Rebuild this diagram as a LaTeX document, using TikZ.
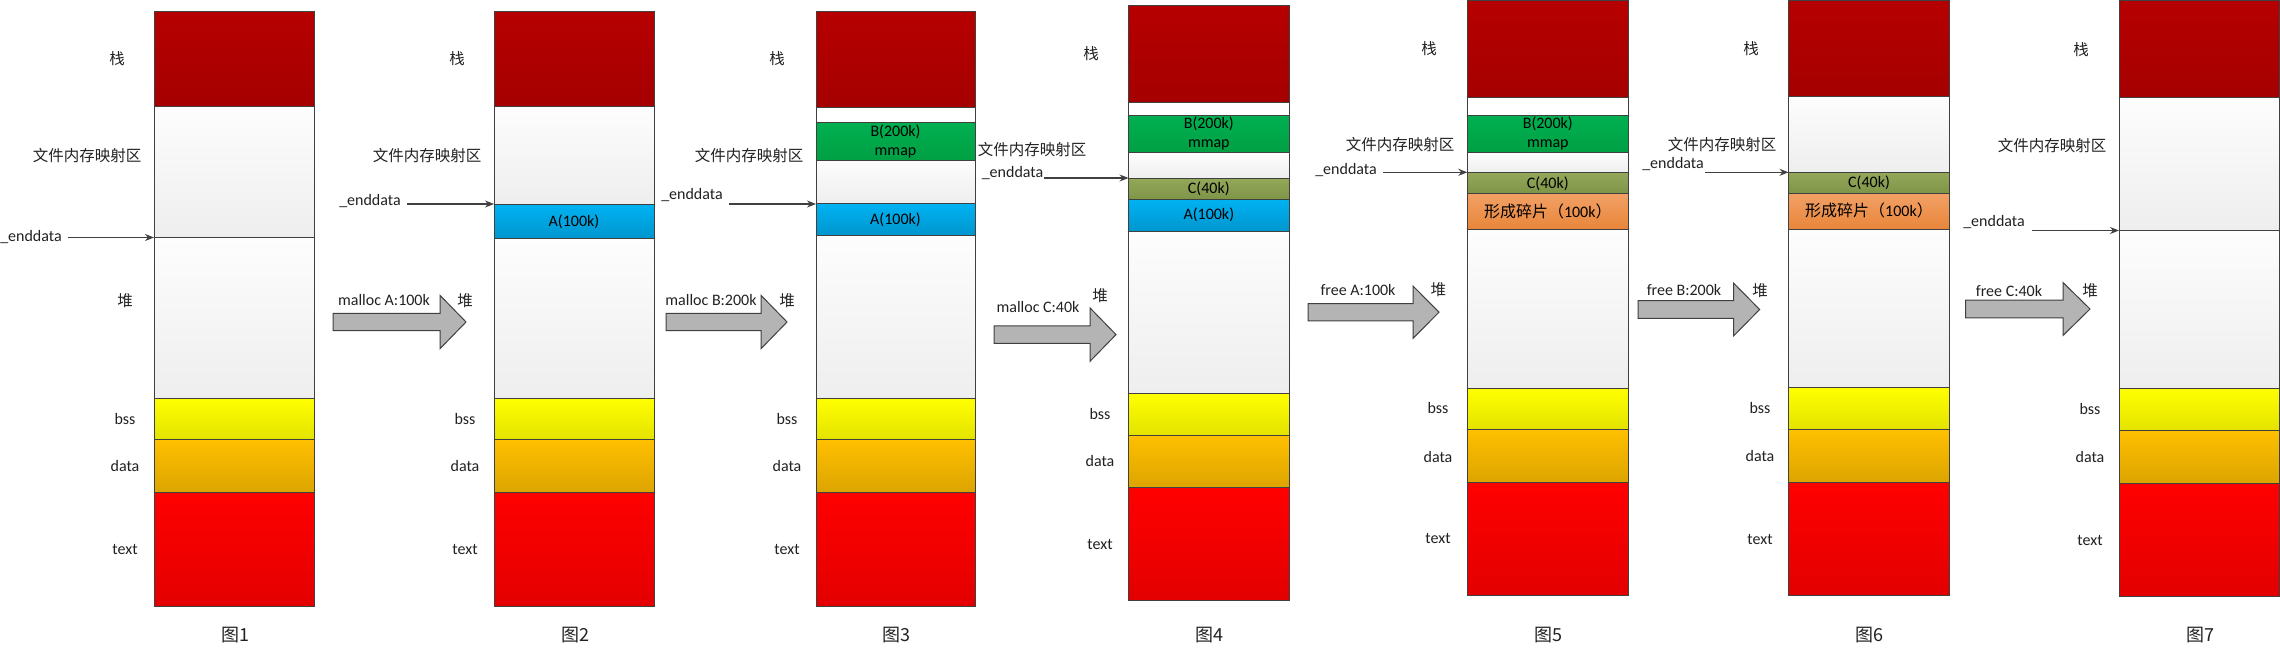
\documentclass[tikz,border=0pt]{standalone}
\usepackage{fontspec}
\setmainfont{Carlito}
\newfontfamily\cjk{Noto Sans CJK SC}
\usetikzlibrary{arrows.meta}
\definecolor{edge}{HTML}{404040}
\definecolor{ink}{HTML}{222222}
\definecolor{arrgray}{HTML}{B4B4B4}
\definecolor{stkT}{HTML}{B60000}\definecolor{stkB}{HTML}{A50000}
\definecolor{mapT}{HTML}{FDFDFD}\definecolor{mapB}{HTML}{EEEEEE}
\definecolor{bssT}{HTML}{FFFF00}\definecolor{bssB}{HTML}{E3E300}
\definecolor{datT}{HTML}{FFC000}\definecolor{datB}{HTML}{DCA400}
\definecolor{txtT}{HTML}{FF0000}\definecolor{txtB}{HTML}{E30000}
\definecolor{aT}{HTML}{00B2F2}\definecolor{aB}{HTML}{0096CE}
\definecolor{bT}{HTML}{00B050}\definecolor{bB}{HTML}{00A044}
\definecolor{cT}{HTML}{94A85A}\definecolor{cB}{HTML}{7E9446}
\definecolor{fT}{HTML}{F2A066}\definecolor{fB}{HTML}{E8863A}
\newcommand\seg[5]{\path[seg,#5] (#1,#3) rectangle (#2,#4);}
\newcommand\barrow[6]{\draw[barrow] (#1,#4-#5) -- (#2,#4-#5) -- (#2,#4-#6) -- (#3,#4) -- (#2,#4+#6) -- (#2,#4+#5) -- (#1,#4+#5) -- cycle;}
\tikzset{
  seg/.style={draw=edge,line width=1pt},
  stk/.style={top color=stkT,bottom color=stkB},
  map/.style={top color=mapT,bottom color=mapB},
  gap/.style={fill=white},
  bssfill/.style={top color=bssT,bottom color=bssB},
  datfill/.style={top color=datT,bottom color=datB},
  txtfill/.style={top color=txtT,bottom color=txtB},
  afill/.style={top color=aT,bottom color=aB},
  bfill/.style={top color=bT,bottom color=bB},
  cfill/.style={top color=cT,bottom color=cB},
  ffill/.style={top color=fT,bottom color=fB},
  lbl/.style={font=\fontsize{16}{18}\selectfont,text=ink,inner sep=1pt},
  zh/.style={font=\cjk\fontsize{15.5}{17}\selectfont,text=ink,inner sep=1pt},
  blk/.style={font=\fontsize{16}{19}\selectfont,text=black,align=center,inner sep=0pt},
  figcap/.style={font=\cjk\fontsize{18}{20}\selectfont,text=ink},
  ptr/.style={draw=edge,line width=1.2pt,-{Stealth[length=9pt,width=7pt]}},
  barrow/.style={draw=edge,fill=arrgray,line width=1pt},
}

\begin{document}
\begin{tikzpicture}[x=1pt,y=-1pt]
\useasboundingbox[fill=white] (0,0) rectangle (2280,650);

% fig 1
\begin{scope}
  \seg{154}{314}{11.5}{107}{stk}
  \seg{154}{314}{107}{237.5}{map}
  \seg{154}{314}{237.5}{398.5}{map}
  \seg{154}{314}{398.5}{439.3}{bssfill}
  \seg{154}{314}{439.3}{492.3}{datfill}
  \seg{154}{314}{492.3}{606}{txtfill}
  \node[zh] (zhan1) at (117,59) {栈};
  \node[zh] (wj1) at (87,156) {文件内存映射区};
  \node[lbl] (ed1) at (31,237.5) {\_enddata};
  \node[zh] (dui1) at (125,301) {堆};
  \node[lbl] (bss1) at (125,419) {bss};
  \node[lbl] (dat1) at (125,466) {data};
  \node[lbl] (txt1) at (125,549.5) {text};
  \node[figcap] (fig1) at (235,635) {图1};
  \coordinate (brk1) at (154,237.5);
  \draw[ptr,shorten <=5pt] (ed1.east |- brk1) -- (brk1);
\end{scope}

\barrow{333}{440}{466}{322}{8.7}{26.7}
\node[lbl] (op1) at (384,300) {malloc A:100k};

% fig 2
\begin{scope}
  \seg{494}{654}{11.5}{107}{stk}
  \seg{494}{654}{107}{204}{map}
  \seg{494}{654}{204}{238.8}{afill}
  \seg{494}{654}{238.8}{398.5}{map}
  \seg{494}{654}{398.5}{439.3}{bssfill}
  \seg{494}{654}{439.3}{492.3}{datfill}
  \seg{494}{654}{492.3}{606}{txtfill}
  \node[blk] (a2) at (574,221.4) {A(100k)};
  \node[zh] (zhan2) at (457,59) {栈};
  \node[zh] (wj2) at (427,156) {文件内存映射区};
  \node[lbl] (ed2) at (370,201.5) {\_enddata};
  \node[zh] (dui2) at (465,301) {堆};
  \node[lbl] (bss2) at (465,419) {bss};
  \node[lbl] (dat2) at (465,466) {data};
  \node[lbl] (txt2) at (465,549.5) {text};
  \node[figcap] (fig2) at (575,635) {图2};
  \coordinate (brk2) at (494,204);
  \draw[ptr,shorten <=5pt] (ed2.east |- brk2) -- (brk2);
\end{scope}

\barrow{666}{761}{787}{322}{8.7}{26.7}
\node[lbl] (op2) at (711,300) {malloc B:200k};

% fig 3
\begin{scope}
  \seg{816}{975}{11.5}{107.3}{stk}
  \seg{816}{975}{107.3}{122.3}{gap}
  \seg{816}{975}{122.3}{160}{bfill}
  \seg{816}{975}{160}{203.7}{map}
  \seg{816}{975}{203.7}{235}{afill}
  \seg{816}{975}{235}{398.5}{map}
  \seg{816}{975}{398.5}{439.3}{bssfill}
  \seg{816}{975}{439.3}{492.3}{datfill}
  \seg{816}{975}{492.3}{606}{txtfill}
  \node[blk] (b3) at (895.5,141.7) {B(200k)\\mmap};
  \node[blk] (a3) at (895.5,220) {A(100k)};
  \node[zh] (zhan3) at (777,59) {栈};
  \node[zh] (wj3) at (749,156) {文件内存映射区};
  \node[lbl] (ed3) at (692,195.3) {\_enddata};
  \node[zh] (dui3) at (787,301) {堆};
  \node[lbl] (bss3) at (787,419) {bss};
  \node[lbl] (dat3) at (787,466) {data};
  \node[lbl] (txt3) at (787,549.5) {text};
  \node[figcap] (fig3) at (896,635) {图3};
  \coordinate (brk3) at (816,204);
  \draw[ptr,shorten <=5pt] (ed3.east |- brk3) -- (brk3);
\end{scope}

\barrow{994}{1090}{1116}{334.6}{8.7}{26.7}
\node[lbl] (op3) at (1038,307.2) {malloc C:40k};

% fig 4
\begin{scope}
  \seg{1128.5}{1289}{6}{102.3}{stk}
  \seg{1128.5}{1289}{102.3}{115.3}{gap}
  \seg{1128.5}{1289}{115.3}{152.3}{bfill}
  \seg{1128.5}{1289}{152.3}{178}{map}
  \seg{1128.5}{1289}{178}{199.3}{cfill}
  \seg{1128.5}{1289}{199.3}{231.3}{afill}
  \seg{1128.5}{1289}{231.3}{393}{map}
  \seg{1128.5}{1289}{393}{435.3}{bssfill}
  \seg{1128.5}{1289}{435.3}{487.6}{datfill}
  \seg{1128.5}{1289}{487.6}{600.8}{txtfill}
  \node[blk] (b4) at (1208.8,133.7) {B(200k)\\mmap};
  \node[blk] (c4) at (1208.8,188.3) {C(40k)};
  \node[blk] (a4) at (1208.8,215) {A(100k)};
  \node[zh] (zhan4) at (1091,53.5) {栈};
  \node[zh] (wj4) at (1032,150) {文件内存映射区};
  \node[lbl] (ed4) at (1012.5,173.3) {\_enddata};
  \node[zh] (dui4) at (1100,296) {堆};
  \node[lbl] (bss4) at (1100,414) {bss};
  \node[lbl] (dat4) at (1100,461) {data};
  \node[lbl] (txt4) at (1100,544.5) {text};
  \node[figcap] (fig4) at (1209,635) {图4};
  \coordinate (brk4) at (1128.5,178);
  \draw[ptr] (ed4.east |- brk4) -- (brk4);
\end{scope}

\barrow{1308}{1413}{1439}{312.2}{8.7}{26.2}
\node[lbl] (op4) at (1358,290) {free A:100k};

% fig 5
\begin{scope}
  \seg{1467.3}{1628.3}{1}{97.3}{stk}
  \seg{1467.3}{1628.3}{97.3}{115.3}{gap}
  \seg{1467.3}{1628.3}{115.3}{152.3}{bfill}
  \seg{1467.3}{1628.3}{152.3}{172.3}{map}
  \seg{1467.3}{1628.3}{172.3}{193.3}{cfill}
  \seg{1467.3}{1628.3}{193.3}{229.3}{ffill}
  \seg{1467.3}{1628.3}{229.3}{388}{map}
  \seg{1467.3}{1628.3}{388}{429.3}{bssfill}
  \seg{1467.3}{1628.3}{429.3}{482.5}{datfill}
  \seg{1467.3}{1628.3}{482.5}{595.5}{txtfill}
  \node[blk] (b5) at (1547.8,133.8) {B(200k)\\mmap};
  \node[blk] (c5) at (1547.8,183.3) {C(40k)};
  \node[blk] (f5) at (1547.8,211.7) {{\cjk 形成碎片（}100k{\cjk ）}};
  \node[zh] (zhan5) at (1429,48.5) {栈};
  \node[zh] (wj5) at (1400,145) {文件内存映射区};
  \node[lbl] (ed5) at (1346,170) {\_enddata};
  \node[zh] (dui5) at (1438.3,290) {堆};
  \node[lbl] (bss5) at (1438,408) {bss};
  \node[lbl] (dat5) at (1438,456.5) {data};
  \node[lbl] (txt5) at (1438,538.6) {text};
  \node[figcap] (fig5) at (1548,635) {图5};
  \coordinate (brk5) at (1467.3,172.3);
  \draw[ptr,shorten <=5pt] (ed5.east |- brk5) -- (brk5);
\end{scope}

\barrow{1638}{1733.6}{1759.6}{309.5}{8.8}{26.4}
\node[lbl] (op5) at (1684,290.5) {free B:200k};

% fig 6
\begin{scope}
  \seg{1788.5}{1949.5}{1}{96.7}{stk}
  \seg{1788.5}{1949.5}{96.7}{172.3}{map}
  \seg{1788.5}{1949.5}{172.3}{193.3}{cfill}
  \seg{1788.5}{1949.5}{193.3}{229.3}{ffill}
  \seg{1788.5}{1949.5}{229.3}{387.3}{map}
  \seg{1788.5}{1949.5}{387.3}{429.3}{bssfill}
  \seg{1788.5}{1949.5}{429.3}{482.3}{datfill}
  \seg{1788.5}{1949.5}{482.3}{595.3}{txtfill}
  \node[blk] (c6) at (1869,182.7) {C(40k)};
  \node[blk] (f6) at (1869,210.7) {{\cjk 形成碎片（}100k{\cjk ）}};
  \node[zh] (zhan6) at (1751,49) {栈};
  \node[zh] (wj6) at (1722,145) {文件内存映射区};
  \node[lbl] (ed6) at (1673,164.3) {\_enddata};
  \node[zh] (dui6) at (1760,290.7) {堆};
  \node[lbl] (bss6) at (1760,408.3) {bss};
  \node[lbl] (dat6) at (1760,455.7) {data};
  \node[lbl] (txt6) at (1760,539) {text};
  \node[figcap] (fig6) at (1869,635) {图6};
  \coordinate (brk6) at (1788.5,172.3);
  \draw[ptr] (ed6.east |- brk6) -- (brk6);
\end{scope}

\barrow{1965.6}{2063}{2090}{309}{8.8}{26.5}
\node[lbl] (op6) at (2009,290.7) {free C:40k};

% fig 7
\begin{scope}
  \seg{2119}{2279}{1}{97.3}{stk}
  \seg{2119}{2279}{97.3}{230.5}{map}
  \seg{2119}{2279}{230.5}{388.3}{map}
  \seg{2119}{2279}{388.3}{430.3}{bssfill}
  \seg{2119}{2279}{430.3}{483.3}{datfill}
  \seg{2119}{2279}{483.3}{596}{txtfill}
  \node[zh] (zhan7) at (2081,50) {栈};
  \node[zh] (wj7) at (2052,145.7) {文件内存映射区};
  \node[lbl] (ed7) at (1994,222) {\_enddata};
  \node[zh] (dui7) at (2090,290.7) {堆};
  \node[lbl] (bss7) at (2090,409.3) {bss};
  \node[lbl] (dat7) at (2090,456.7) {data};
  \node[lbl] (txt7) at (2090,540) {text};
  \node[figcap] (fig7) at (2200,635) {图7};
  \coordinate (brk7) at (2119,230.5);
  \draw[ptr,shorten <=6pt] (ed7.east |- brk7) -- (brk7);
\end{scope}
\end{tikzpicture}
\end{document}
